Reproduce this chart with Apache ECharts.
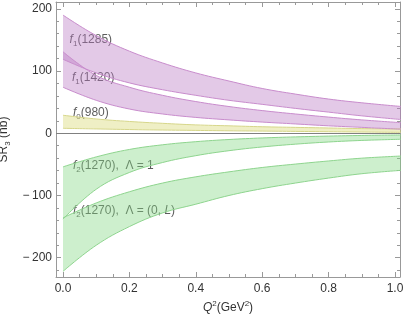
<!DOCTYPE html>
<html>
<head>
<meta charset="utf-8">
<script src="https://cdn.jsdelivr.net/npm/echarts@6/dist/echarts.min.js"></script>
<style>
html, body { margin: 0; padding: 0; background: #fff; }
#chart { width: 407px; height: 322px; }
</style>
</head>
<body>
<div id="chart"></div>
<script>
// Q^2 points (GeV^2), last one sits at the right frame
var q2 = [0, 0.1, 0.2, 0.3, 0.4, 0.5, 0.6, 0.7, 0.8, 0.9, 1.02]

// bands, upper / lower edge (nb)
var f1_1285_hi = [190, 157, 132, 113, 97, 84, 72, 63, 55, 49, 43]
var f1_1285_lo = [119, 97, 81, 70, 61, 53, 46.5, 40, 34, 28, 22]
var f1_1420_hi = [131, 93, 74, 61, 51, 43, 36.5, 31, 26, 21.5, 17]
var f1_1420_lo = [74, 53, 39, 31, 25.5, 21.5, 18, 15, 12, 9.5, 6.5]
var f0_980_hi = [29, 23, 19, 16, 13.5, 12, 10.5, 9.5, 8.5, 7.5, 7]
var f0_980_lo = [8, 7, 6, 5.2, 4.6, 4, 3.5, 3, 2.5, 2, 1.5]
var f2_l1_hi = [-54, -38, -26, -18.5, -13.5, -10, -7.5, -5.8, -4.5, -3.5, -2.7]
var f2_l1_lo = [-138, -90, -63, -47, -36, -28, -22, -17.5, -14, -11.5, -9.6]
var f2_l0_hi = [-136, -112, -94, -80, -70, -62, -55, -49.5, -44.5, -40, -36.5]
var f2_l0_lo = [-222, -180, -150, -128, -114, -100, -89, -80, -72, -65, -59.5]

// ticks
var xMajor = [0, 0.2, 0.4, 0.6, 0.8, 1.0]
var xMinor = [0, 0.05, 0.1, 0.15, 0.2, 0.25, 0.3, 0.35, 0.4, 0.45, 0.5, 0.55, 0.6, 0.65, 0.7, 0.75, 0.8, 0.85, 0.9, 0.95, 1.0]
var yMajor = [-200, -100, 0, 100, 200]
var yMinor = [-220, -200, -180, -160, -140, -120, -100, -80, -60, -40, -20, 0, 20, 40, 60, 80, 100, 120, 140, 160, 180, 200]

var X_MIN = -0.021, X_MAX = 1.015
var Y_MIN = -231, Y_MAX = 211

var FONT = 'Liberation Sans, Arial, sans-serif'
var FRAME = '#999'

// value first, q2 second: stacking then runs on the y dimension
function pairs (ys) {
  return q2.map(function (x, i) { return [ys[i], x] })
}
function diffs (hi, lo) {
  return q2.map(function (x, i) { return [hi[i] - lo[i], x] })
}

// one band = base line + stacked difference with fill
function band (id, hi, lo, line, fill) {
  var common = {
    type: 'line',
    stack: id,
    stackStrategy: 'all',
    encode: { x: 1, y: 0 },
    smooth: 0.4,
    symbol: 'none',
    silent: true,
    lineStyle: { color: line, width: 1 }
  }
  return [
    Object.assign({}, common, { data: pairs(lo) }),
    Object.assign({}, common, { data: diffs(hi, lo), areaStyle: { color: fill, opacity: 1 } })
  ]
}

function xAx (pos, ticks, len, showLine, showLabel) {
  return {
    type: 'value', position: pos, min: X_MIN, max: X_MAX,
    splitLine: { show: false },
    axisLine: { show: showLine, onZero: false, lineStyle: { color: FRAME, width: 1 } },
    axisTick: { show: true, inside: true, length: len, customValues: ticks, lineStyle: { color: FRAME } },
    axisLabel: {
      show: showLabel, customValues: xMajor, margin: 6, fontSize: 12, color: '#333', fontFamily: FONT,
      formatter: function (v) { return v.toFixed(1) }
    }
  }
}
function yAx (pos, ticks, len, showLine, showLabel) {
  return {
    type: 'value', position: pos, min: Y_MIN, max: Y_MAX,
    splitLine: { show: false },
    axisLine: { show: showLine, onZero: false, lineStyle: { color: FRAME, width: 1 } },
    axisTick: { show: true, inside: true, length: len, customValues: ticks, lineStyle: { color: FRAME } },
    axisLabel: {
      show: showLabel, customValues: yMajor, margin: 4, fontSize: 12, color: '#333', fontFamily: FONT,
      formatter: function (v) { return v < 0 ? '\u2212\u2009' + Math.abs(v) : String(v) }
    }
  }
}

var xAxes = [
  xAx('bottom', xMajor, 5, true, true),
  xAx('bottom', xMinor, 3, false, false),
  xAx('top', xMajor, 5, true, false),
  xAx('top', xMinor, 3, false, false)
]
xAxes[0].name = '{i|Q}{p|2}{a|(GeV}{p|2}{a|)}'
xAxes[0].nameLocation = 'middle'
xAxes[0].nameGap = 17
xAxes[0].nameTextStyle = {
  fontFamily: FONT, color: '#333',
  rich: {
    a: { fontSize: 12, lineHeight: 16, fontFamily: FONT, color: '#333' },
    i: { fontSize: 12, lineHeight: 16, fontStyle: 'italic', fontFamily: FONT, color: '#333' },
    p: { fontSize: 8, lineHeight: 10, verticalAlign: 'top', fontFamily: FONT, color: '#333' }
  }
}

var yAxes = [
  yAx('left', yMajor, 5, true, true),
  yAx('left', yMinor, 3, false, false),
  yAx('right', yMajor, 5, true, false),
  yAx('right', yMinor, 3, false, false)
]
yAxes[0].name = '{a|SR}{s|3}{a| (nb)}'
yAxes[0].nameLocation = 'middle'
yAxes[0].nameGap = 37
yAxes[0].nameTextStyle = {
  fontFamily: FONT, color: '#333',
  rich: {
    a: { fontSize: 12, lineHeight: 16, fontFamily: FONT, color: '#333' },
    s: { fontSize: 8, lineHeight: 10, verticalAlign: 'bottom', fontFamily: FONT, color: '#333' }
  }
}

var txt = {
  n: { fontSize: 12, lineHeight: 16, fontFamily: FONT, color: '#333' },
  i: { fontSize: 12, lineHeight: 16, fontStyle: 'italic', fontFamily: FONT, color: '#333' },
  s: { fontSize: 8, lineHeight: 10, verticalAlign: 'bottom', fontFamily: FONT, color: '#333' }
}
// band labels, anchored at data coordinates
var labels = [
  { value: [0.02, 150], label: { formatter: '{i|f}{s|1}{n|(1285)}' } },
  { value: [0.027, 89], label: { formatter: '{i|f}{s|1}{n|(1420)}' } },
  { value: [0.03, 32.5], label: { formatter: '{i|f}{s|0}{n|(980)}' } },
  { value: [0.03, -52.5], label: { formatter: '{i|f}{s|2}{n|(1270),  \u039b = 1}' } },
  { value: [0.03, -124], label: { formatter: '{i|f}{s|2}{n|(1270),  \u039b = (0, }{i|L}{n|)}' } }
]

var series = [].concat(
  band('f0', f0_980_hi, f0_980_lo, '#d6d68a', 'rgba(215,215,110,0.4)'),
  band('a', f1_1285_hi, f1_1285_lo, '#c88ccc', 'rgba(185,120,195,0.4)'),
  band('b', f1_1420_hi, f1_1420_lo, '#c88ccc', 'rgba(185,120,195,0.4)'),
  band('c', f2_l1_hi, f2_l1_lo, '#8ed48e', 'rgba(130,215,130,0.4)'),
  band('d', f2_l0_hi, f2_l0_lo, '#8ed48e', 'rgba(130,215,130,0.4)'),
  [{
    type: 'scatter',
    symbolSize: 0,
    silent: true,
    data: labels,
    label: { show: true, position: 'right', distance: 0, rich: txt },
    markLine: {
      silent: true,
      symbol: ['none', 'none'],
      label: { show: false },
      lineStyle: { color: '#808080', width: 1, type: 'solid' },
      data: [{ yAxis: 0 }]
    }
  }]
)

var myChart = echarts.init(document.getElementById('chart'))
myChart.setOption({
  animation: false,
  backgroundColor: '#fff',
  grid: { left: 56, right: 7, top: 2, bottom: 45, containLabel: false, outerBoundsMode: 'none' },
  xAxis: xAxes,
  yAxis: yAxes,
  series: series
})
</script>
</body>
</html>
